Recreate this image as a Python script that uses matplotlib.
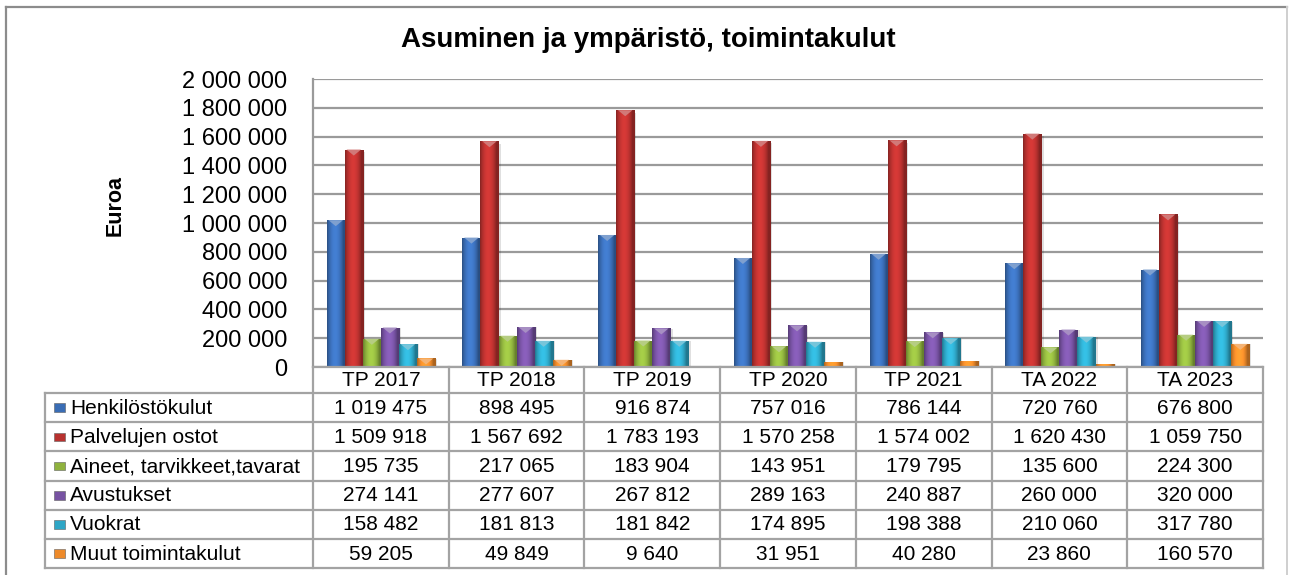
import numpy as np
import matplotlib
matplotlib.use("Agg")
import matplotlib.pyplot as plt
from matplotlib.patches import Rectangle, Polygon
from matplotlib.colors import to_rgb
from matplotlib.lines import Line2D

plt.rcParams["font.family"] = ["Liberation Sans", "DejaVu Sans"]

# ── Data ─────────────────────────────────────────────────────────────────────
years = ["TP 2017", "TP 2018", "TP 2019", "TP 2020", "TP 2021", "TA 2022", "TA 2023"]
series_names = ["Henkilöstökulut", "Palvelujen ostot", "Aineet, tarvikkeet,tavarat",
                "Avustukset", "Vuokrat", "Muut toimintakulut"]
henkilosto = [1019475, 898495, 916874, 757016, 786144, 720760, 676800]
palvelut   = [1509918, 1567692, 1783193, 1570258, 1574002, 1620430, 1059750]
aineet     = [195735, 217065, 183904, 143951, 179795, 135600, 224300]
avustukset = [274141, 277607, 267812, 289163, 240887, 260000, 320000]
vuokrat    = [158482, 181813, 181842, 174895, 198388, 210060, 317780]
muut       = [59205, 49849, 9640, 31951, 40280, 23860, 160570]
series = [henkilosto, palvelut, aineet, avustukset, vuokrat, muut]
yticks = list(range(0, 2000001, 200000))

colors = ["#3a6db5", "#b8312f", "#8fb23e", "#7752a2", "#2ea6c6", "#ee8a2a"]

W, H = 1289, 575
fig = plt.figure(figsize=(W / 100, H / 100), dpi=100, facecolor="white")


def fx(px):
    return px / W


def fy(py):
    return 1 - py / H


# outer frame
fig.add_artist(Line2D([fx(6), fx(6)], [fy(7), 0], color="#8c8c8c", lw=1.6))
fig.add_artist(Line2D([fx(6), fx(1287)], [fy(7), fy(7)], color="#8c8c8c", lw=1.6))
fig.add_artist(Line2D([fx(1287), fx(1287)], [fy(7), 0], color="#cfcfcf", lw=1.4))

# ── Chart axes ───────────────────────────────────────────────────────────────
ax = fig.add_axes([fx(313), fy(367), fx(1263) - fx(313), fy(79) - fy(367)])
ax.set_xlim(-0.5, len(years) - 0.5)
ax.set_ylim(0, 2000000)
for s in ["top", "right", "bottom"]:
    ax.spines[s].set_visible(False)
ax.spines["left"].set_color("#9a9a9a")
ax.spines["left"].set_linewidth(1.6)
ax.set_yticks(yticks)
ax.set_yticklabels([f"{v:,}".replace(",", " ") for v in yticks], fontsize=17)
ax.tick_params(left=False, bottom=False, labelbottom=False, pad=15)
ax.yaxis.grid(True, color="#9a9a9a", lw=1.6)
ax.set_axisbelow(True)

x = np.arange(len(years))
bw = 0.133
t = np.linspace(0, 1, 40)
profile = 0.72 + 0.45 * np.sin(np.pi * np.clip(t * 1.15, 0, 1)) ** 0.8
bevel_h = 6 * 2000000 / 288

for i, (vals, col) in enumerate(zip(series, colors)):
    rgb = np.array(to_rgb(col))
    bars = ax.bar(x + (i - 2.5) * bw, vals, bw, color=col, edgecolor="none", zorder=3)
    grad = np.clip(rgb[None, :] * profile[:, None], 0, 1)[None, :, :]
    for b in bars:
        x0, y0 = b.get_x(), b.get_y()
        w, h = b.get_width(), b.get_height()
        # soft shadow on the right
        ax.add_patch(Rectangle((x0 + w, y0), w * 0.12, h * 0.99, color="#000000",
                               alpha=0.12, lw=0, zorder=2))
        im = ax.imshow(grad, extent=[x0, x0 + w, y0, y0 + h], aspect="auto",
                       interpolation="bilinear", zorder=3.1)
        im.set_clip_path(b)
        if h > bevel_h:
            light = rgb + (1 - rgb) * 0.35
            ax.add_patch(Polygon([(x0 + w * 0.1, y0 + h), (x0 + w * 0.9, y0 + h),
                                  (x0 + w / 2, y0 + h - bevel_h)],
                                 closed=True, color=light, lw=0, zorder=3.2))
ax.set_xlim(-0.5, len(years) - 0.5)
ax.set_ylim(0, 2000000)

fig.text(fx(648), fy(40), "Asuminen ja ympäristö, toimintakulut", ha="center",
         va="center", fontsize=20, fontweight="bold")
fig.text(fx(115), fy(206), "Euroa", ha="center", va="center", rotation=90,
         fontsize=15.5, fontweight="bold")

# ── Data table ───────────────────────────────────────────────────────────────
label_w = (313 - 45) / ((1263 - 313) / len(years))
hdr = 0.9
nrows = len(series)
tax = fig.add_axes([fx(45), fy(568), fx(1263) - fx(45), fy(367) - fy(568)])
tax.set_xlim(-0.5 - label_w, len(years) - 0.5)
tax.set_ylim(hdr + nrows, 0)
tax.axis("off")
lc, lw = "#a3a3a3", 1.6
left = -0.5 - label_w
right = len(years) - 0.5
for k in range(len(years) + 1):
    tax.plot([k - 0.5, k - 0.5], [0, hdr + nrows], color=lc, lw=lw, clip_on=False)
tax.plot([left, left], [hdr, hdr + nrows], color=lc, lw=lw, clip_on=False)
tax.plot([-0.5, right], [0, 0], color=lc, lw=lw, clip_on=False)
for r in range(nrows + 1):
    tax.plot([left, right], [hdr + r, hdr + r], color=lc, lw=lw, clip_on=False)

for j, yr in enumerate(years):
    tax.text(j, hdr / 2 + 0.02, yr, ha="center", va="center", fontsize=15)
for r, (name, vals, col) in enumerate(zip(series_names, series, colors)):
    yc = hdr + r + 0.5
    tax.add_patch(Rectangle((left + 0.065, yc - 0.15), 0.08, 0.3, facecolor=col,
                            edgecolor="#606060", lw=0.4, clip_on=False))
    tax.text(left + 0.185, yc + 0.02, name, ha="left", va="center", fontsize=15)
    for j, v in enumerate(vals):
        tax.text(j, yc + 0.02, f"{v:,}".replace(",", " "), ha="center",
                 va="center", fontsize=15)

fig.savefig("out.png", dpi=100, facecolor="white")
